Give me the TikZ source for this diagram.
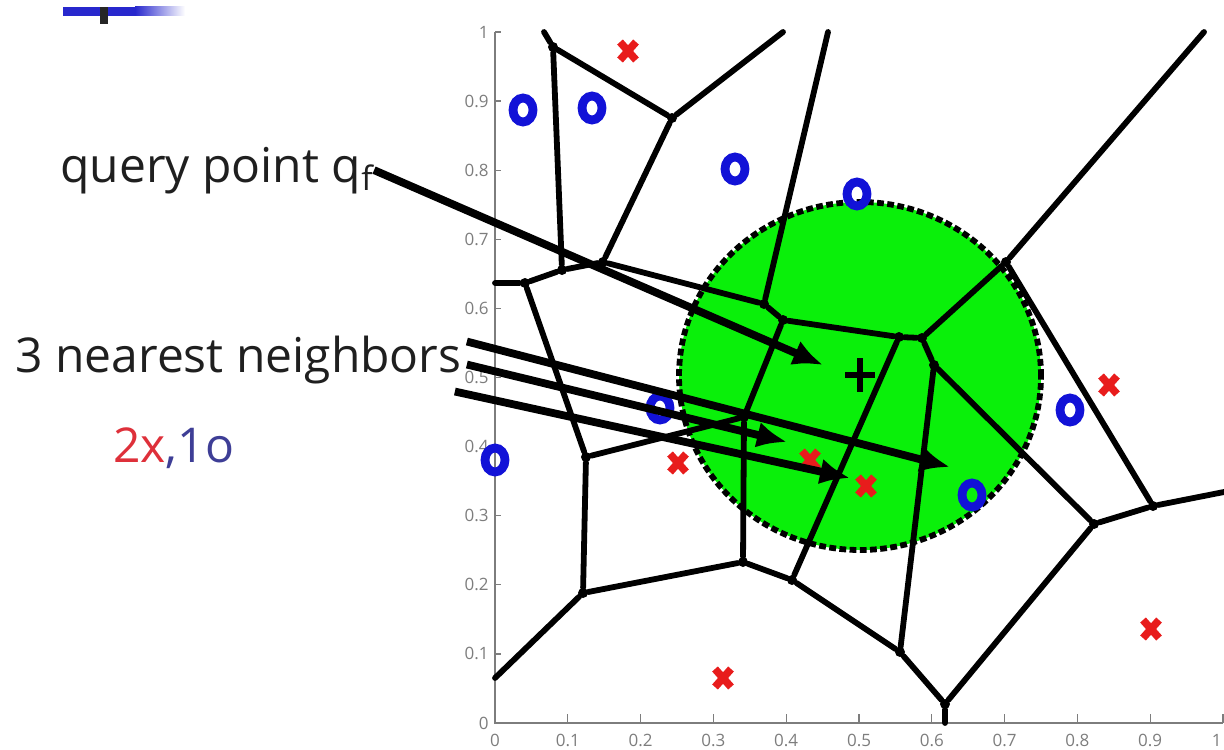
\documentclass[tikz,border=0pt]{standalone}
\usepackage{fontspec}
\setmainfont{Open Sans}
\usepackage{xcolor}
\usetikzlibrary{arrows.meta}

\definecolor{crossred}{RGB}{232,28,28}
\definecolor{ringblue}{RGB}{18,18,215}
\definecolor{discgreen}{RGB}{10,240,10}
\definecolor{labred}{RGB}{222,48,58}
\definecolor{labblue}{RGB}{62,62,150}
\definecolor{axisgray}{RGB}{125,125,125}
\definecolor{barblue}{RGB}{40,40,205}

\begin{document}
\begin{tikzpicture}[
  x=0.5pt, y=-0.5pt,
  font=\fontsize{24}{29}\selectfont,
  vdot/.style={circle, fill=black, inner sep=0pt, minimum size=5pt},
  edge/.style={line width=2.9pt, line cap=round, line join=round},
  arr/.style={-{Latex[length=15pt,width=13pt]}, line width=3.9pt},
  ring/.style={draw=ringblue, line width=4.4pt},
  cross/.style={draw=crossred, line width=3.8pt},
  ticklab/.style={font=\fontsize{8.5}{9}\selectfont, text=axisgray, inner sep=1pt},
  caption/.style={anchor=base west, inner sep=0pt, text=black!88}
]
\useasboundingbox (0,0) rectangle (1224,749);

% slide decoration
\fill[barblue] (63,7) rectangle (135,16);
\shade[left color=barblue, right color=white] (135,7) rectangle (185,16);
\fill[black!85] (100,7) rectangle (108,24);

% axes
\draw[axisgray, line width=0.7pt] (495,32) -- (495,723) -- (1223,723);
\foreach \i/\t in {0/0,1/0.1,2/0.2,3/0.3,4/0.4,5/0.5,6/0.6,7/0.7,8/0.8,9/0.9} {
  \pgfmathsetmacro\px{495+72.8*\i}
  \draw[axisgray, line width=0.6pt] (\px,723) -- (\px,714);
  \node[ticklab] (xl\i) at (\px,740) {\t};
}
\foreach \i/\t in {0/0,1/0.1,2/0.2,3/0.3,4/0.4,5/0.5,6/0.6,7/0.7,8/0.8,9/0.9,10/1} {
  \pgfmathsetmacro\py{723-69.1*\i}
  \draw[axisgray, line width=0.6pt] (495,\py) -- (501,\py);
  \node[ticklab, anchor=east] (yl\i) at (491,\py) {\t};
}
\draw[axisgray, line width=0.6pt] (1223,723) -- (1223,714);
\node[ticklab, anchor=east] (xl10) at (1224,740) {1};

% neighbourhood disc
\fill[discgreen] (860,376) ellipse [x radius=90.5pt, y radius=87pt];
\draw[dash pattern=on 3.4pt off 1.7pt, line width=2.9pt] (860,376) ellipse [x radius=90.5pt, y radius=87pt];

% voronoi vertices
\node[vdot] (v1)  at (553,47)   {};
\node[vdot] (v2)  at (672,118)  {};
\node[vdot] (v3)  at (562,270)  {};
\node[vdot] (v4)  at (603,262)  {};
\node[vdot] (v5)  at (525,283)  {};
\node[vdot] (v6)  at (586,457)  {};
\node[vdot] (v7)  at (583,593)  {};
\node[vdot] (v8)  at (764,304)  {};
\node[vdot] (v9)  at (783,320)  {};
\node[vdot] (v10) at (899,337)  {};
\node[vdot] (v11) at (922,338)  {};
\node[vdot] (v12) at (1006,262) {};
\node[vdot] (v13) at (1153,506) {};
\node[vdot] (v14) at (1094,524) {};
\node[vdot] (v15) at (934,365)  {};
\node[vdot] (v16) at (945,704)  {};
\node[vdot] (v17) at (900,652)  {};
\node[vdot] (v18) at (792,580)  {};
\node[vdot] (v19) at (743,562)  {};
\node[vdot] (v20) at (744,417)  {};

\coordinate (t1) at (544,32);
\coordinate (t2) at (783,32);
\coordinate (t3) at (828,32);
\coordinate (t4) at (1204,32);
\coordinate (r1) at (1224,492);
\coordinate (b1) at (945,723);
\coordinate (l1) at (495,283);
\coordinate (l2) at (495,678);

% voronoi edges
\draw[edge] (t1) -- (v1) -- (v2) -- (t2);
\draw[edge] (v1) -- (v3) -- (v4) -- (v2);
\draw[edge] (l1) -- (v5) -- (v3);
\draw[edge] (v5) -- (v6) -- (v7) -- (l2);
\draw[edge] (v4) -- (v8) -- (t3);
\draw[edge] (v8) -- (v9) -- (v10) -- (v11) -- (v12) -- (t4);
\draw[edge] (v12) -- (v13) -- (r1);
\draw[edge] (v11) -- (v15) -- (v14) -- (v13);
\draw[edge] (v14) -- (v16) -- (b1);
\draw[edge] (v16) -- (v17) -- (v15);
\draw[edge] (v17) -- (v18) -- (v10);
\draw[edge] (v18) -- (v19) -- (v20) -- (v9);
\draw[edge] (v20) -- (v6);
\draw[edge] (v19) -- (v7);

% class o
\foreach \x/\y in {523/110, 592/108, 735/169, 857/194, 660/408, 495/460, 1070/410, 972/495}
  \draw[ring] (\x,\y) ellipse [x radius=5pt, y radius=6pt];
% class x
\foreach \x/\y in {628/51, 678/463, 810/460, 866/486, 1109/385, 723/678, 1151/629}
  \draw[cross, shift={(\x,\y)}] (-8,-9) -- (8,9) (-8,9) -- (8,-9);

% query point
\coordinate (q) at (860,375);
\draw[line width=3.2pt] ([xshift=-7.5pt]q) -- ([xshift=7.5pt]q) ([yshift=8.5pt]q) -- ([yshift=-8.5pt]q);

% captions
\node[caption] (qtext) at (60,182) {query point q\textsubscript{f}};
\node[caption] (ntext) at (15,372) {3 nearest neighbors};
\node[caption] (ctext) at (113,462) {\textcolor{labred}{2x}\textcolor{labblue}{,1o}};

\coordinate (qtip)  at (823,365);
\coordinate (n1tip) at (950,467);
\coordinate (n2tip) at (787,442);
\coordinate (n3tip) at (850,478);

\draw[arr] (qtext.east) -- (qtip);
\draw[arr] ([xshift=2.5pt,yshift=9pt]ntext.east) -- (n1tip);
\draw[arr] ([xshift=2.5pt,yshift=-2.5pt]ntext.east) -- (n2tip);
\draw[arr] ([xshift=-3.5pt,yshift=-16pt]ntext.east) -- (n3tip);

\end{tikzpicture}
\end{document}
